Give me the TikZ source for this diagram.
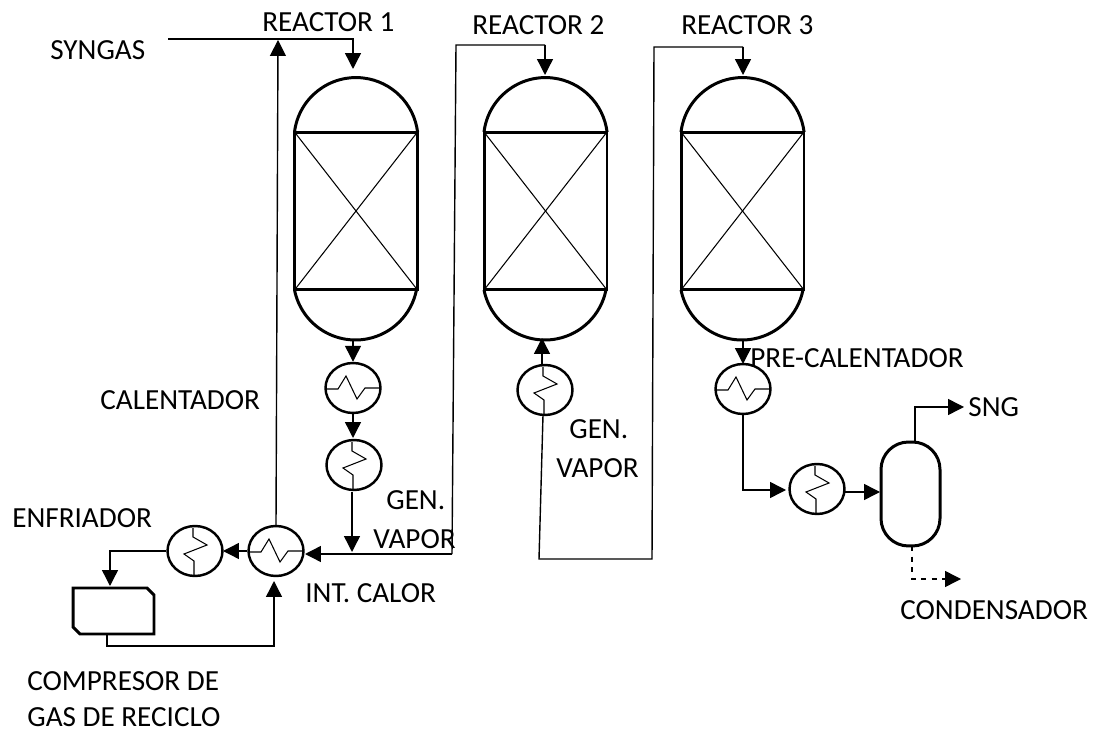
\documentclass[tikz,border=0pt]{standalone}
\usepackage{fontspec}
\setmainfont{Carlito}
\usetikzlibrary{calc,arrows.meta,shapes.geometric}

\tikzset{
  vessel/.style={draw,line width=1.7pt,inner sep=0pt,outer sep=0pt},
  bed/.style={vessel,minimum width=2.46cm,minimum height=3.16cm},
  exch/.style={draw,ellipse,line width=1.4pt,inner sep=0pt,minimum width=1.1cm,minimum height=1cm},
  flow/.style={line width=0.8pt,-{Triangle[length=9pt,width=9pt]}},
  pipe/.style={line width=0.8pt},
  coil/.style={line width=0.6pt},
  lbl/.style={anchor=west,inner sep=0pt,font=\fontsize{16.6}{20}\selectfont}
}

% reactor body: name, x of centre
\newcommand{\reactorbody}[2]{
  \node[bed] (#1) at (#2,211) {};
  \draw[line width=0.6pt] (#1.north west) -- (#1.south east);
  \draw[line width=0.6pt] (#1.north east) -- (#1.south west);
  \draw[line width=1.7pt] (#1.north west) arc[start angle=173,end angle=7,radius=1.24cm];
  \draw[line width=1.7pt] (#1.south west) arc[start angle=191.3,end angle=348.7,radius=1.244cm];
}
% zigzag across an exchanger
\newcommand{\coilflat}[1]{
  \draw[coil] ($(#1)+(-26,1)$) -- ++(11,0) -- ++(8,-13) -- ++(11,23) -- ++(8,-11) -- ++(15,0);
}
\newcommand{\coilup}[1]{
  \draw[coil] ($(#1)+(-2,-23)$) -- ++(0,9) -- ++(14,8) -- ++(-23,9) -- ++(10,7) -- ++(0,14);
}

\begin{document}
\begin{tikzpicture}[x=0.02cm,y=-0.02cm]
\useasboundingbox (0,0) rectangle (1101,732);

% Reactors
\reactorbody{r1}{356}
\reactorbody{r2}{545.5}
\reactorbody{r3}{742.5}

% Exchangers
\node[exch] (h1) at (353,388) {};
\node[exch] (h2) at (354,465) {};
\node[exch] (h3) at (276,551) {};
\node[exch] (h4) at (195,551) {};
\node[exch] (h5) at (545,390) {};
\node[exch] (h6) at (743,389) {};
\node[exch] (h7) at (817,489) {};
\coilflat{h1}
\coilup{h2}
\coilflat{h3}
\coilup{h4}
\coilup{h5}
\coilflat{h6}
\coilup{h7}

% Compressor and separator
\node[minimum width=1.62cm,minimum height=0.92cm,inner sep=0pt,outer sep=0pt] (comp) at (113.5,611) {};
\draw[line width=1.7pt] (comp.north west) -- ($(comp.north east)+(-7,0)$) -- ($(comp.north east)+(0,7)$) -- (comp.south east) -- ($(comp.south west)+(7,0)$) -- ($(comp.south west)+(0,-7)$) -- cycle;
\node[vessel,rounded corners=0.55cm,minimum width=1.18cm,minimum height=2.08cm] (sep) at (910.5,494) {};

% Free ends of the lines
\coordinate (syn) at (168,39);
\coordinate (r1in) at (353,69);
\coordinate (mix) at (278,40);
\coordinate (r2in) at (545,75);
\coordinate (r3in) at (743,75);
\coordinate (sng) at (964,407);
\coordinate (cond) at (961,579);

% Lines
\draw[flow] (syn) -| (r1in);
\draw[flow] (353,340) -- (h1.north);
\draw[flow] (h1.south) -- (353,438);
\draw[flow] (352,492) -- (352,552);
\draw[pipe] (452,554) -- (456,45) -- (545,45);
\draw[flow] (545,45) -- (r2in);
\draw[flow] (452,554) -- (305,554);
\draw[flow] (h3.north) -- (mix);
\draw[flow] (h3.west) -- (223,551);
\draw[flow] (h4.west) -| (110,586);
\draw[flow] (107,634) |- (274,646) -- (274,581);
\draw[flow] (542,366) -- (542,338);
\draw[pipe] (543,415) -- (539,559) -- (652,559) -- (654,47) -- (743,47);
\draw[flow] (743,47) -- (r3in);
\draw[flow] (743,340) -- (743,364);
\draw[flow] (h6.south) |- (786,490);
\draw[flow] (845,492) -- (880,492);
\draw[flow] (915,442) |- (sng);
\draw[flow,dashed] (912,546) |- (cond);

% Labels
\node[lbl] (tsyn) at (50,50) {SYNGAS};
\node[lbl] (tr1) at (262,22) {REACTOR 1};
\node[lbl] (tr2) at (472,25) {REACTOR 2};
\node[lbl] (tr3) at (681,25) {REACTOR 3};
\node[lbl] (tcal) at (100,400) {CALENTADOR};
\node[lbl] (tenf) at (12,518) {ENFRIADOR};
\node[lbl] (tg1) at (386,500) {GEN.};
\node[lbl] (tv1) at (373,539) {VAPOR};
\node[lbl] (tint) at (305,593) {INT. CALOR};
\node[lbl] (tcom) at (27,681) {COMPRESOR DE};
\node[lbl] (tgas) at (27,717) {GAS DE RECICLO};
\node[lbl] (tg2) at (569,429) {GEN.};
\node[lbl] (tv2) at (556,468) {VAPOR};
\node[lbl] (tpre) at (750,358) {PRE-CALENTADOR};
\node[lbl] (tsng) at (968,407) {SNG};
\node[lbl] (tcon) at (900,610) {CONDENSADOR};

\end{tikzpicture}
\end{document}
